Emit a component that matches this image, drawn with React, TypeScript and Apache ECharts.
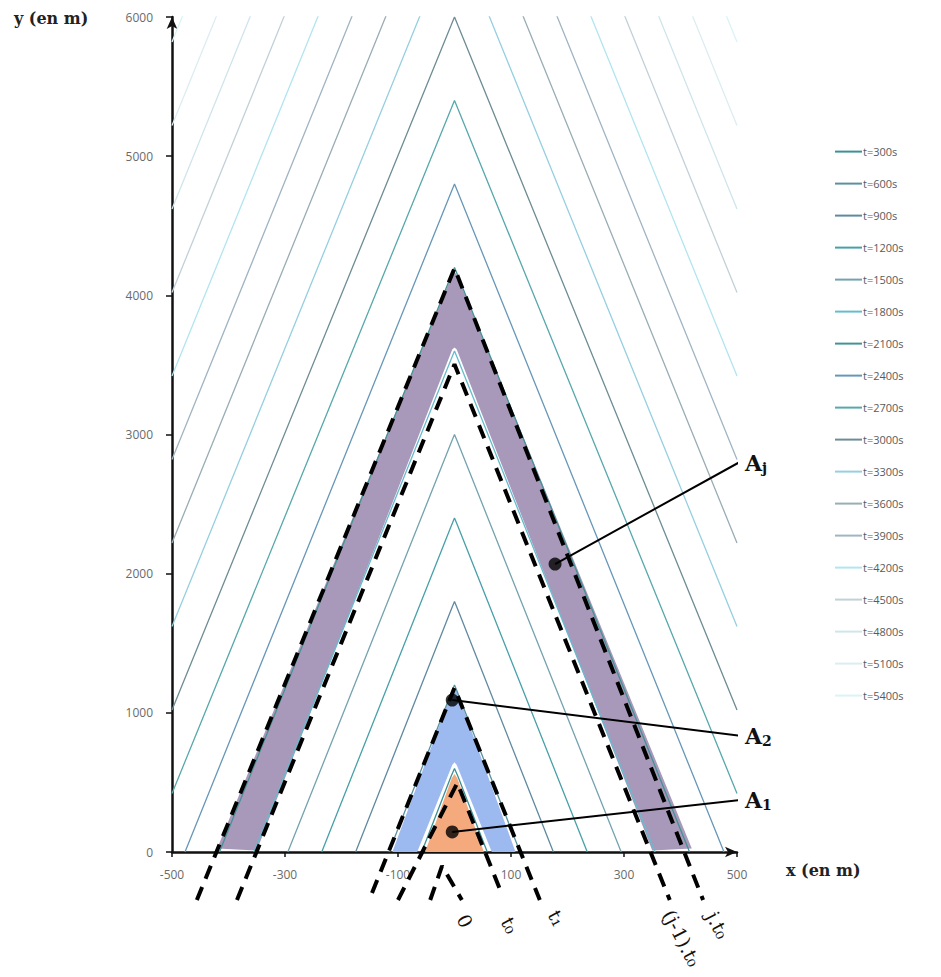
import React, { useEffect, useRef } from "react";
import * as echarts from "echarts";

// ---------- data ----------
const TIMES = [300, 600, 900, 1200, 1500, 1800, 2100, 2400, 2700, 3000, 3300, 3600, 3900, 4200, 4500, 4800, 5100, 5400];
const SERIES_NAMES = ["t=300s", "t=600s", "t=900s", "t=1200s", "t=1500s", "t=1800s", "t=2100s", "t=2400s", "t=2700s", "t=3000s", "t=3300s", "t=3600s", "t=3900s", "t=4200s", "t=4500s", "t=4800s", "t=5100s", "t=5400s"];
const LINE_COLORS = ["#3a9196", "#5a919e", "#6089a0", "#47a0a8", "#74a2ae", "#66bccd", "#449294", "#6797b8", "#57a8ab", "#6d8c94", "#96cfe0", "#98adb4", "#a0b5c3", "#b2e5ef", "#c2d1d8", "#cfe5eb", "#dcedf2", "#daf3f6"];

// isochrone lines: [x (m), y (m)]
const L300 = [[-58, 0], [-6, 545], [0, 600], [6, 545], [58, 0]];
const L600 = [[-116, 0], [-6, 1140], [0, 1200], [6, 1140], [116, 0]];
const L900 = [[-175, 0], [-6, 1740], [0, 1800], [6, 1740], [175, 0]];
const L1200 = [[-235, 0], [-6, 2340], [0, 2400], [6, 2340], [235, 0]];
const L1500 = [[-295, 0], [-6, 2940], [0, 3000], [6, 2940], [295, 0]];
const L1800 = [[-355, 0], [-6, 3540], [0, 3600], [6, 3540], [355, 0]];
const L2100 = [[-416, 0], [-6, 4140], [0, 4200], [6, 4140], [416, 0]];
const L2400 = [[-477, 0], [-6, 4740], [0, 4800], [6, 4740], [477, 0]];
const L2700 = [[-500, 420], [-6, 5340], [0, 5400], [6, 5340], [500, 420]];
const L3000 = [[-500, 1020], [-6, 5940], [0, 6000], [6, 5940], [500, 1020]];
const L3300 = [[-500, 1620], [0, 6620], [500, 1620]];
const L3600 = [[-500, 2220], [0, 7220], [500, 2220]];
const L3900 = [[-500, 2820], [0, 7820], [500, 2820]];
const L4200 = [[-500, 3420], [0, 8420], [500, 3420]];
const L4500 = [[-500, 4020], [0, 9020], [500, 4020]];
const L4800 = [[-500, 4620], [0, 9620], [500, 4620]];
const L5100 = [[-500, 5220], [0, 10220], [500, 5220]];
const L5400 = [[-500, 5820], [0, 10820], [500, 5820]];
const LINES = [L300, L600, L900, L1200, L1500, L1800, L2100, L2400, L2700, L3000, L3300, L3600, L3900, L4200, L4500, L4800, L5100, L5400];

// filled areas
const ORANGE_AREA = [[-52, 0], [-5, 530], [0, 560], [5, 530], [52, 0]];
const BLUE_AREA = [[-110, 0], [-5, 1150], [0, 1180], [5, 1150], [108, 0], [66, 0], [4, 625], [0, 645], [-4, 625], [-66, 0]];
const PURPLE_AREA = [[-420, 25], [-5, 4140], [0, 4170], [5, 4140], [420, 25], [350, 10], [4, 3610], [0, 3625], [-4, 3610], [-350, 10]];

// dashed construction lines
const DASH_J = [[-456, -345], [0, 4195], [440, -345]];
const DASH_JM1 = [[-385, -345], [0, 3505], [381, -345]];
const DASH_T1 = [[-146, -295], [0, 1180], [151, -345]];
const DASH_T0 = [[-100, -345], [5, 496], [81, -273]];
const DASH_ZERO = [[-43, -345], [-22, -100], [13, -345]];

// annotation points: dot, label end
const ANN_AJ = [[178, 2069], [511, 2816]];
const ANN_A2 = [[-4, 1092], [523, 826]];
const ANN_A1 = [[-4, 144], [523, 381]];

const SERIF = '"DejaVu Serif", "Liberation Serif", serif';
const SANS = '"Open Sans", "Noto Sans", sans-serif';

function polySeries(points: number[][], color: string) {
  return {
    type: "custom",
    silent: true,
    z: 1,
    data: points,
    renderItem: (params: any, api: any) => {
      if (params.dataIndex !== 0) return { type: "group", children: [] };
      return {
        type: "polygon",
        shape: { points: points.map((p) => api.coord(p)) },
        style: { fill: color },
      };
    },
  };
}

function dashSeries(points: number[][]) {
  return {
    type: "line",
    data: points,
    symbol: "none",
    clip: false,
    silent: true,
    z: 5,
    lineStyle: { color: "#000", width: 4, type: [14, 9] },
  };
}

const annRich = {
  a: { fontFamily: SERIF, fontWeight: "bold", fontSize: 22, color: "#111" },
  s: { fontFamily: SERIF, fontWeight: "bold", fontSize: 14, color: "#111", padding: [10, 0, 0, 0] },
};

function annSeries(points: number[][], label: string) {
  return {
    type: "line",
    data: points,
    symbol: "none",
    clip: false,
    silent: true,
    z: 6,
    lineStyle: { color: "#000", width: 2 },
    endLabel: { show: true, distance: 7, color: "#111", formatter: label, rich: annRich },
  };
}

function dotSeries() {
  return {
    type: "scatter",
    data: [ANN_AJ[0], ANN_A2[0], ANN_A1[0]],
    symbol: "circle",
    symbolSize: 13,
    clip: false,
    silent: true,
    z: 7,
    itemStyle: { color: "#000" },
  };
}

function rotText(text: string, x: number, y: number) {
  return {
    type: "text",
    x,
    y,
    rotation: -1.1,
    style: { text, font: `19px ${SERIF}`, fill: "#111", align: "center", verticalAlign: "middle" },
  };
}

export default function App() {
  const ref = useRef<HTMLDivElement>(null);
  useEffect(() => {
    const chart = echarts.init(ref.current!, null, { renderer: "svg" });
    const lineSeries = LINES.map((pts, i) => ({
      name: SERIES_NAMES[i],
      type: "line",
      data: pts,
      symbol: "none",
      showSymbol: false,
      silent: true,
      z: 3,
      lineStyle: { color: LINE_COLORS[i], width: 1.3 },
      itemStyle: { color: LINE_COLORS[i] },
    }));
    const axisLine = {
      show: true,
      onZero: false,
      symbol: ["none", "arrow"],
      symbolSize: [8, 12],
      lineStyle: { color: "#111", width: 2.5 },
    };
    chart.setOption({
      animation: false,
      backgroundColor: "#fff",
      grid: { left: 172, right: 204, top: 17, bottom: 125 },
      xAxis: {
        type: "value",
        min: -500,
        max: 500,
        interval: 200,
        axisLine,
        axisTick: { show: true, length: 5, lineStyle: { color: "#111", width: 1.5 } },
        axisLabel: { margin: 16, color: "#6a6a6a", fontSize: 12, fontFamily: SANS, formatter: (v: number) => String(v) },
        splitLine: { show: false },
      },
      yAxis: {
        type: "value",
        min: 0,
        max: 6000,
        interval: 1000,
        axisLine,
        axisTick: { show: true, length: 6, lineStyle: { color: "#111", width: 1.5 } },
        axisLabel: { margin: 19, color: "#6a6a6a", fontSize: 12, fontFamily: SANS, formatter: (v: number) => String(v) },
        splitLine: { show: false },
      },
      legend: {
        data: SERIES_NAMES,
        orient: "vertical",
        left: 829,
        top: 141,
        itemWidth: 27,
        itemHeight: 14,
        itemGap: 20.8,
        selectedMode: false,
        itemStyle: { opacity: 0 },
        lineStyle: { width: 2 },
        textStyle: { fontSize: 11, color: "#5a5a5a", fontFamily: SANS, padding: [0, 0, 0, -4] },
      },
      series: [
        polySeries(PURPLE_AREA, "#a899bb"),
        polySeries(BLUE_AREA, "#9dbaf0"),
        polySeries(ORANGE_AREA, "#f5aa7d"),
        ...lineSeries,
        dashSeries(DASH_J),
        dashSeries(DASH_JM1),
        dashSeries(DASH_T1),
        dashSeries(DASH_T0),
        dashSeries(DASH_ZERO),
        annSeries(ANN_AJ, "{a|A}{s|j}"),
        annSeries(ANN_A2, "{a|A}{s|2}"),
        annSeries(ANN_A1, "{a|A}{s|1}"),
        dotSeries(),
      ],
      graphic: [
        { type: "text", left: 14, top: 10, style: { text: "y (en m)", font: `bold 16px ${SERIF}`, fill: "#222" } },
        { type: "text", left: 786, top: 862, style: { text: "x (en m)", font: `bold 16px ${SERIF}`, fill: "#222" } },
        rotText("0", 465, 921),
        rotText("t\u2080", 510, 925),
        rotText("t\u2081", 557, 918),
        rotText("(j-1).t\u2080", 682, 938),
        rotText("j.t\u2080", 718, 925),
      ],
    });
    return () => chart.dispose();
  }, []);
  return <div ref={ref} style={{ position: "fixed", left: 0, top: 0, width: 941, height: 977, background: "#fff" }} />;
}
